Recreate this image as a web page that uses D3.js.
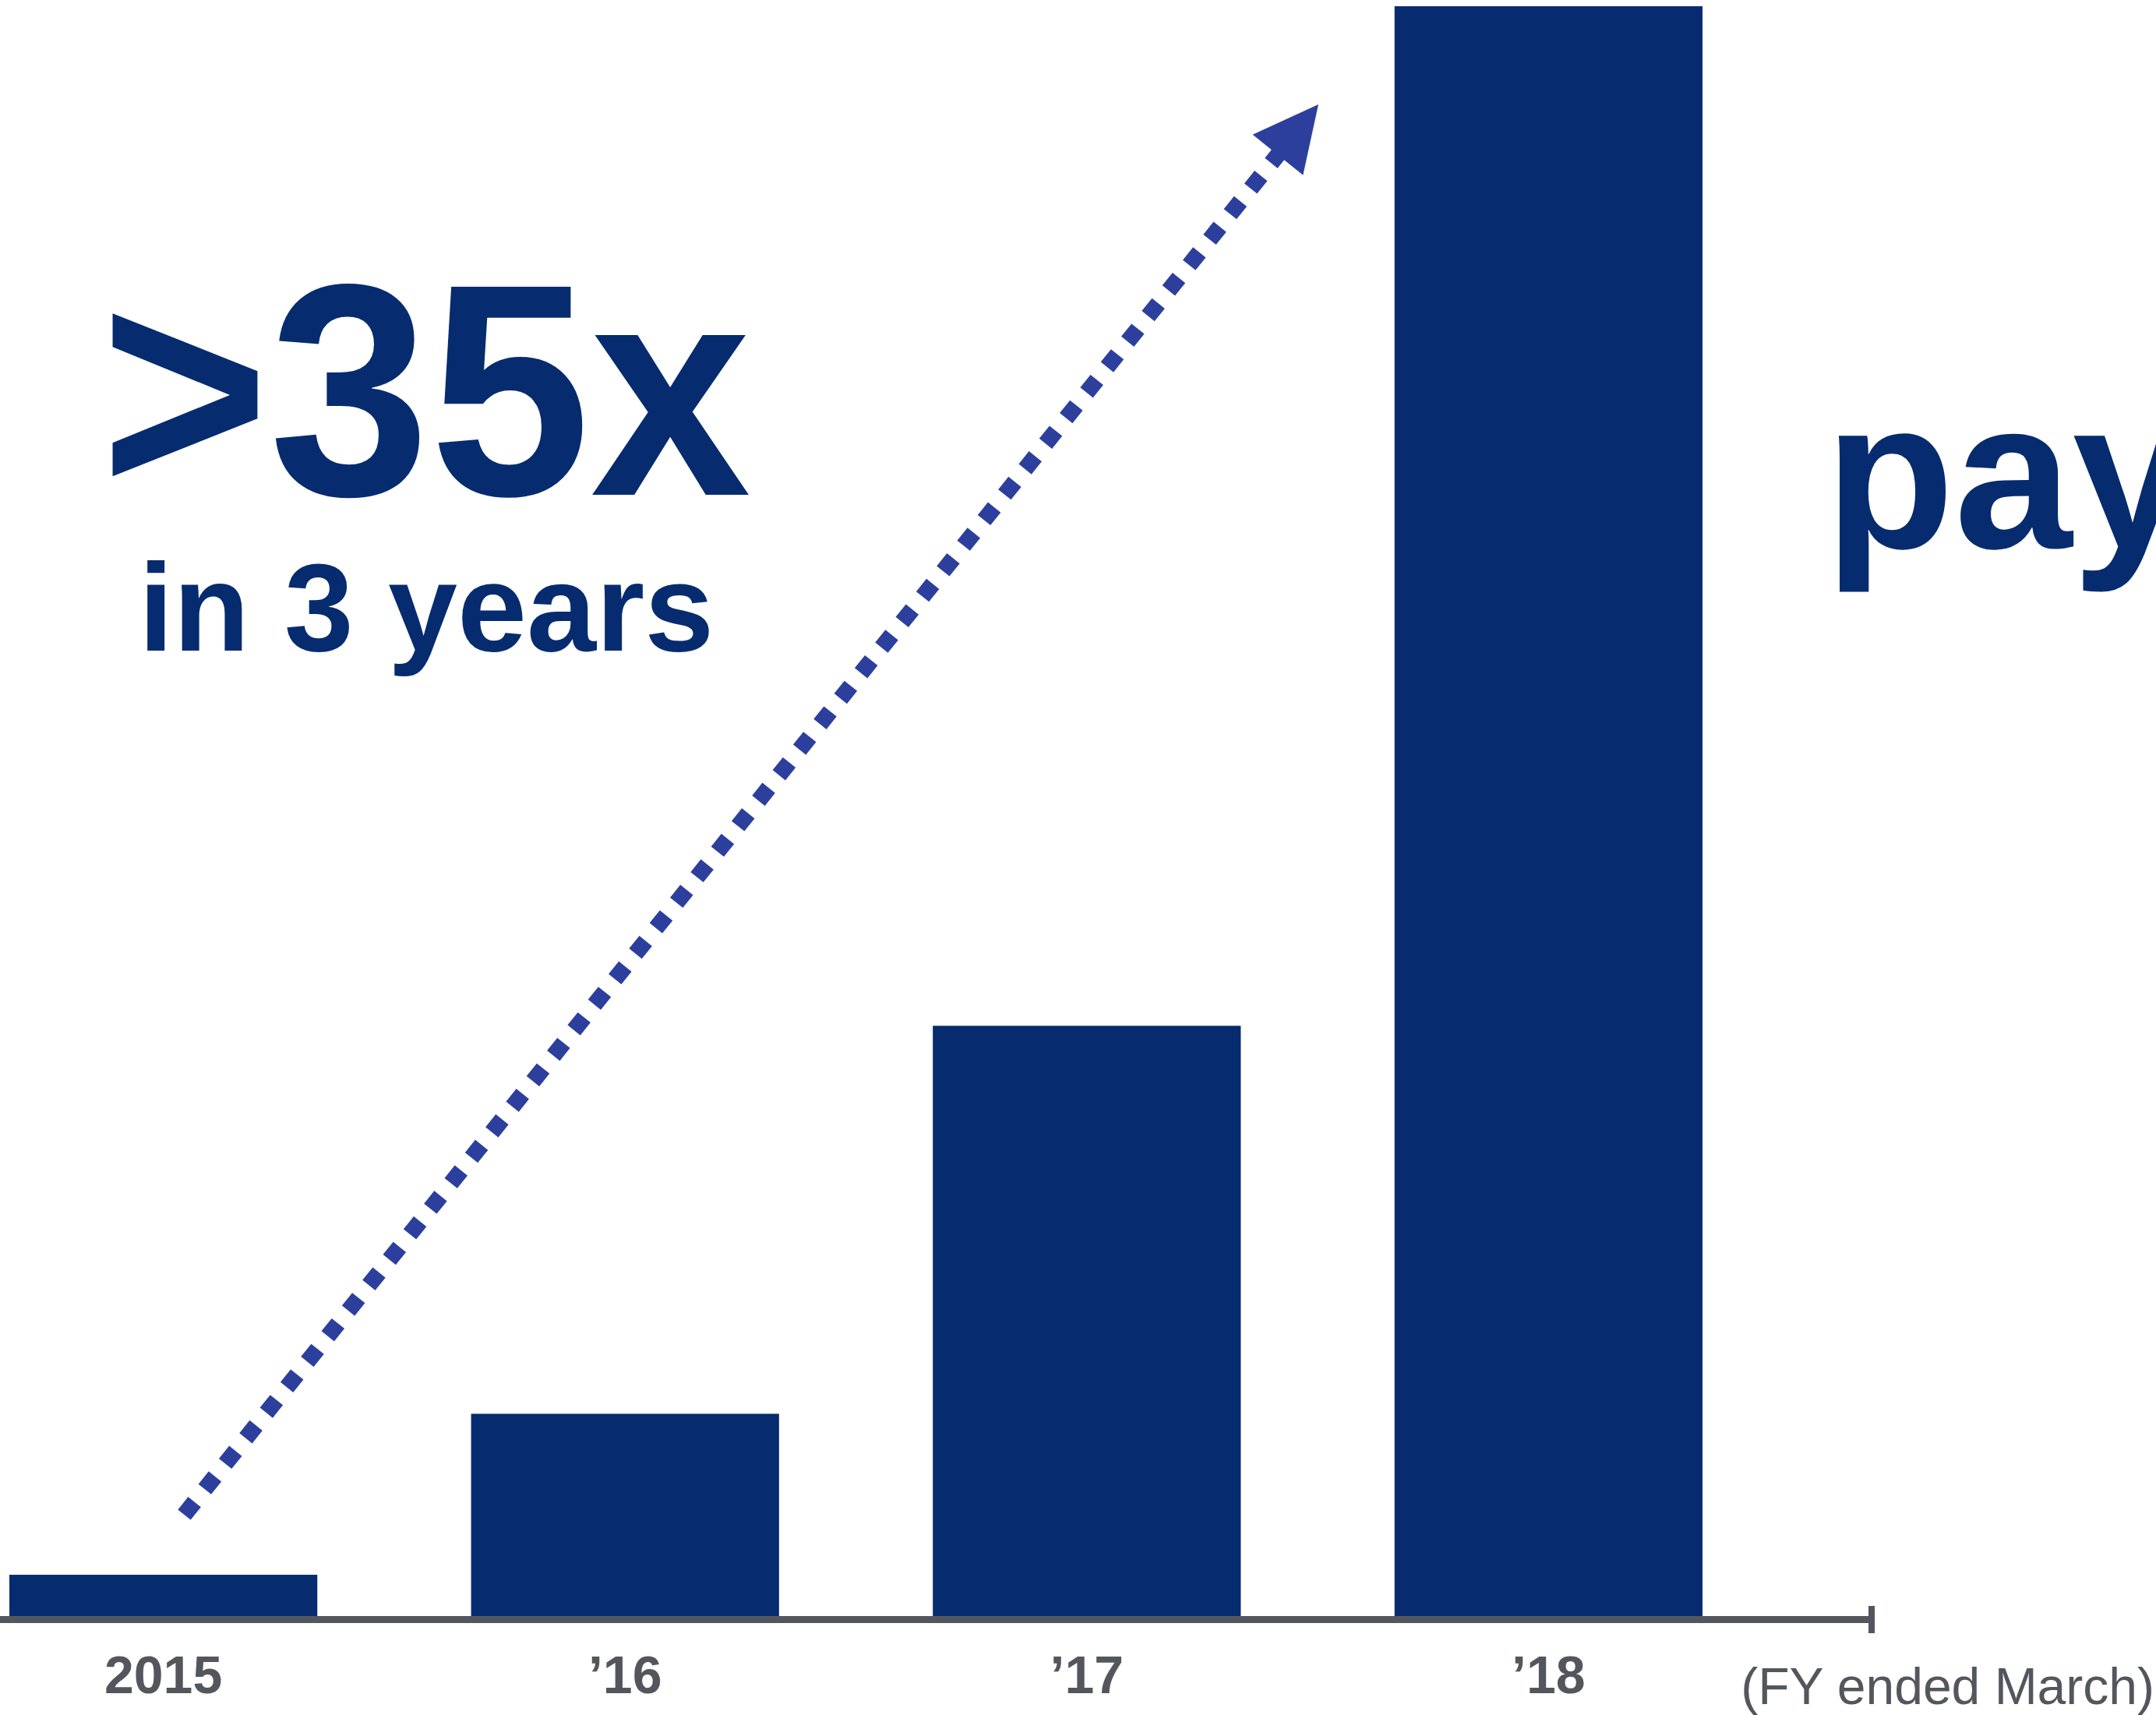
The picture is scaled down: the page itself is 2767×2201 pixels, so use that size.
<!DOCTYPE html>
<html>
<head>
<meta charset="utf-8">
<script src="https://cdn.jsdelivr.net/npm/d3@7"></script>
<style>
  html, body { margin: 0; padding: 0; background: #ffffff; overflow: hidden; }
  svg { display: block; }
</style>
</head>
<body>
<script>
// Fiscal years (ended March) and volume indexed to FY2015 = 1
const categories = ["2015", "’16", "’17", "’18"];
const values = [1.0, 4.9, 14.3, 39.0];
const headline = ">35x";
const subline = "in 3 years";
const sideWord = "pay";
const footnote = "(FY ended March)";

const W = 2767, H = 2201;
const NAVY = "#062c6f";
const ARROW = "#2d3f9d";
const GREY = "#53575d";
const FONT = "'Liberation Sans', Arial, Helvetica, sans-serif";

const svg = d3.select("body").append("svg")
  .attr("width", W).attr("height", H)
  .attr("viewBox", `0 0 ${W} ${H}`);

const baseY = 2074;
const x = d3.scaleBand()
  .domain(categories)
  .range([12, 2185])
  .paddingInner(0.333)
  .paddingOuter(0);

const y = d3.scaleLinear()
  .domain([0, 39])
  .range([baseY, 8]);

// Bars
svg.append("g").selectAll("rect")
  .data(categories.map((c, i) => ({ c, v: values[i] })))
  .join("rect")
  .attr("x", d => x(d.c))
  .attr("width", x.bandwidth())
  .attr("y", d => y(d.v))
  .attr("height", d => baseY - y(d.v))
  .attr("fill", NAVY);

// Category axis: labels below the bars
const axis = d3.axisBottom(x).tickSize(0).tickPadding(47);
const gAxis = svg.append("g")
  .attr("transform", `translate(0,${baseY + 4})`)
  .call(axis);
gAxis.select(".domain").remove();
gAxis.selectAll("text")
  .attr("font-family", FONT)
  .attr("font-weight", "bold")
  .attr("font-size", 68)
  .attr("fill", GREY);

// Thick baseline with an end tick
svg.append("line")
  .attr("x1", 0).attr("x2", 2406)
  .attr("y1", baseY + 4.5).attr("y2", baseY + 4.5)
  .attr("stroke", GREY).attr("stroke-width", 9);
svg.append("line")
  .attr("x1", 2402).attr("x2", 2402)
  .attr("y1", 2061).attr("y2", 2096)
  .attr("stroke", GREY).attr("stroke-width", 8);

svg.append("text")
  .attr("x", 2765).attr("y", 2187)
  .attr("text-anchor", "end")
  .attr("font-family", FONT)
  .attr("font-size", 66)
  .attr("fill", GREY)
  .text(footnote);

// Dotted growth arrow
const start = [236.5, 1944], tip = [1692, 134];
const dx = tip[0] - start[0], dy = tip[1] - start[1];
const len = Math.hypot(dx, dy);
const ux = dx / len, uy = dy / len;
const headLen = 83, headW = 83;
const baseC = [tip[0] - ux * headLen, tip[1] - uy * headLen];

svg.append("line")
  .attr("x1", start[0]).attr("y1", start[1])
  .attr("x2", baseC[0] + ux * 6).attr("y2", baseC[1] + uy * 6)
  .attr("stroke", ARROW)
  .attr("stroke-width", 21)
  .attr("stroke-dasharray", "21 21");

const px = -uy, py = ux;
svg.append("path")
  .attr("d", d3.line()([
    tip,
    [baseC[0] + px * headW / 2, baseC[1] + py * headW / 2],
    [baseC[0] - px * headW / 2, baseC[1] - py * headW / 2]
  ]) + "Z")
  .attr("fill", ARROW);

// Headline text (slightly condensed)
svg.append("text")
  .attr("transform", "translate(129,635) scale(0.955,1)")
  .attr("font-family", FONT)
  .attr("font-weight", "bold")
  .attr("font-size", 388)
  .attr("fill", NAVY)
  .text(headline);

svg.append("text")
  .attr("x", 178).attr("y", 835)
  .attr("font-family", FONT)
  .attr("font-weight", "bold")
  .attr("font-size", 160)
  .attr("fill", NAVY)
  .text(subline);

svg.append("text")
  .attr("x", 2342).attr("y", 703)
  .attr("font-family", FONT)
  .attr("font-weight", "bold")
  .attr("font-size", 272)
  .attr("fill", NAVY)
  .text(sideWord);
</script>
</body>
</html>
